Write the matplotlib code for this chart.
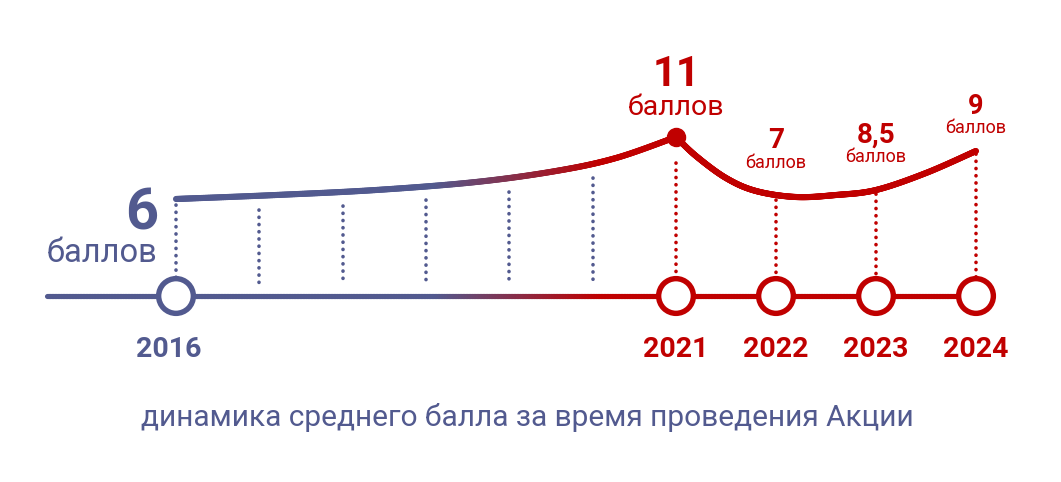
import numpy as np
import matplotlib
matplotlib.use('Agg')
import matplotlib.pyplot as plt
from matplotlib.collections import LineCollection
from matplotlib.colors import to_rgb

plt.rcParams['font.family'] = ['Roboto', 'DejaVu Sans']

BLUE = '#525a8f'
RED = '#c00000'

# ---- data ----
years = [2016, 2021, 2022, 2023, 2024]
scores = ['6', '11', '7', '8,5', '9']
unit = 'баллов'
caption = 'динамика среднего балла за время проведения Акции'

# visual height of the trend curve (px from top)
curve_left_x = [2016.0, 2017.0, 2018.0, 2019.0, 2019.8, 2020.4, 2021.0]
curve_left_y = [199, 195, 190, 182, 171, 158, 137]
curve_right_x = [2021.0, 2021.2, 2021.5, 2021.8, 2022.2, 2022.6, 2023.0, 2023.5, 2024.0]
curve_right_y = [137, 156, 178, 191, 197, 195, 190, 173, 151]

# ---- layout ----
BASE = 296
GRAD0, GRAD1 = 2018.6, 2020.25
AXIS_START = 2014.71


def catmull(xs, ys, n=60):
    P = np.column_stack([xs, ys]).astype(float)
    P = np.vstack([P[0], P, P[-1]])
    out = []
    for i in range(1, len(P) - 2):
        p0, p1, p2, p3 = P[i - 1], P[i], P[i + 1], P[i + 2]
        t = np.linspace(0, 1, n, endpoint=False)[:, None]
        pt = 0.5 * ((2 * p1) + (-p0 + p2) * t + (2 * p0 - 5 * p1 + 4 * p2 - p3) * t ** 2
                    + (-p0 + 3 * p1 - 3 * p2 + p3) * t ** 3)
        out.append(pt)
    out.append(P[-2][None, :])
    return np.vstack(out)


def grad_colors(x):
    t = np.clip((x - GRAD0) / (GRAD1 - GRAD0), 0, 1)[:, None]
    b = np.array(to_rgb(BLUE))
    r = np.array(to_rgb(RED))
    return b * (1 - t) + r * t


def grad_line(ax, pts, lw, z):
    segs = np.stack([pts[:-1], pts[1:]], axis=1)
    mid = 0.5 * (pts[:-1, 0] + pts[1:, 0])
    lc = LineCollection(segs, colors=grad_colors(mid), linewidths=lw,
                        capstyle='round', joinstyle='round', zorder=z)
    ax.add_collection(lc)


fig = plt.figure(figsize=(10.61, 4.82), dpi=100)
ax = fig.add_axes([0, 0, 1, 1])
ax.set_xlim(2014.24, 2024.85)
ax.set_ylim(482, 0)
ax.axis('off')

# baseline
bx = np.linspace(AXIS_START, years[-1], 600)
grad_line(ax, np.column_stack([bx, np.full_like(bx, BASE)]), 3.7, 2)

# curve
left = catmull(curve_left_x, curve_left_y)
right = catmull(curve_right_x, curve_right_y)
curve = np.vstack([left, right[1:]])
grad_line(ax, curve, 4.4, 4)


def curve_at(x):
    return np.interp(x, curve[:, 0], curve[:, 1])


dot_style = dict(linestyle=(0, (0.05, 1.95)), dash_capstyle='round', lw=2.6, zorder=1)

# intermediate dotted guides
for xm in np.linspace(years[0], years[1], 7)[1:-1]:
    ax.plot([xm, xm], [curve_at(xm) + 14, 285], color=BLUE, **dot_style)

# year guides
gaps = [6, 26, 5, 4, 3]
for i, (yr, g) in enumerate(zip(years, gaps)):
    c = BLUE if i == 0 else RED
    ax.plot([yr, yr], [curve_at(yr) + g, BASE - 10], color=c, **dot_style)

# circles
edge = [BLUE] + [RED] * (len(years) - 1)
ax.scatter(years, [BASE] * len(years), s=25 ** 2, facecolors='white',
           edgecolors=edge, linewidths=3.9, zorder=5)

# peak dot
ax.plot([years[1]], [curve_at(years[1])], 'o', ms=13, color=RED, zorder=6)

# value labels
ax.text(years[0] - 0.18, 230, scores[0], ha='right', va='baseline', fontsize=41.5,
        fontweight='bold', color=BLUE)
ax.text(years[0] - 0.19, 262, unit, ha='right', va='baseline', fontsize=23.5, color=BLUE)

num_size = [30, 20, 20, 19.5]
unit_size = [20.5, 13, 13, 13]
num_base = [86, 148, 143, 114]
unit_base = [115, 168, 162, 133]
for i in range(1, len(years)):
    ax.text(years[i], num_base[i - 1], scores[i], ha='center', va='baseline',
            fontsize=num_size[i - 1], fontweight='bold', color=RED)
    ax.text(years[i], unit_base[i - 1], unit, ha='center', va='baseline',
            fontsize=unit_size[i - 1], color=RED)

# year labels
for i, yr in enumerate(years):
    c = BLUE if i == 0 else RED
    dx = -0.07 if i == 0 else 0
    ax.text(yr + dx, 357, str(yr), ha='center', va='baseline', fontsize=20.5,
            fontweight='bold', color=c)

ax.text(0.497, 1 - 426 / 482, caption, transform=ax.transAxes, ha='center',
        va='baseline', fontsize=21.5, color=BLUE)

fig.savefig('out.png', dpi=100)
